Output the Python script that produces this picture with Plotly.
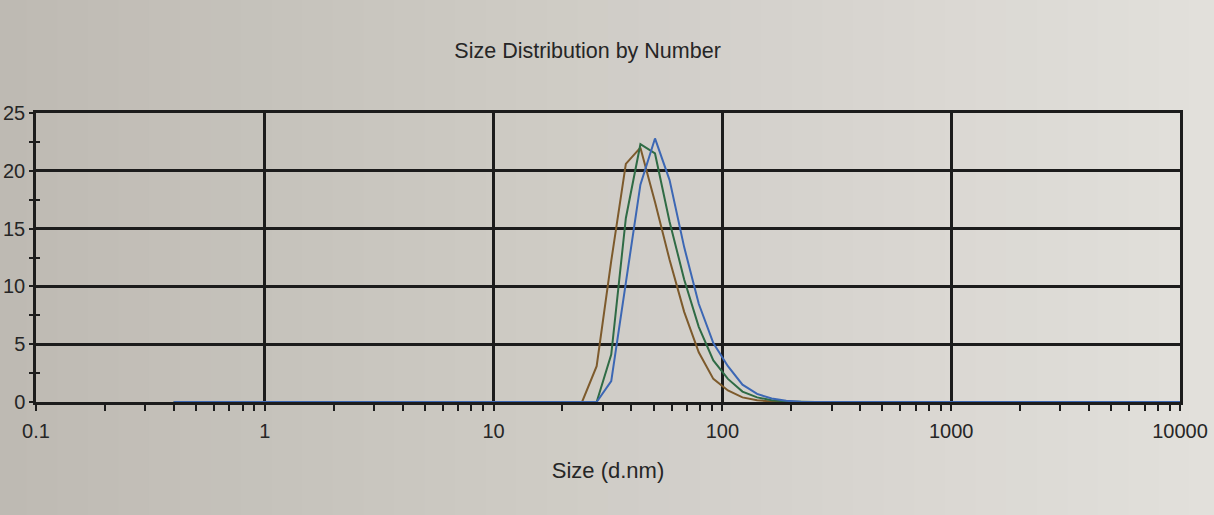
import plotly.graph_objects as go

# Size classes (d.nm) of the instrument's number distribution
sizes = [0.4, 0.4632, 0.5365, 0.6213, 0.7195, 0.8332, 0.9649, 1.117, 1.294, 1.499,
         1.736, 2.010, 2.328, 2.696, 3.122, 3.615, 4.187, 4.849, 5.615, 6.503,
         7.531, 8.721, 10.10, 11.70, 13.54, 15.69, 18.17, 21.04, 24.36, 28.21,
         32.67, 37.84, 43.82, 50.75, 58.77, 68.06, 78.82, 91.28, 105.7, 122.4,
         141.8, 164.2, 190.1, 220.2, 255.0, 295.3, 342.0, 396.1, 458.7, 531.2,
         615.1, 712.4, 825.0, 955.4, 1106, 1281, 1484, 1718, 1990, 2305,
         2669, 3091, 3580, 4145, 4801, 5560, 6439, 7456, 8635, 10000]

# Number (%) per size class for the three measurements
run_brown = [0, 0, 0, 0, 0, 0, 0, 0, 0, 0,
             0, 0, 0, 0, 0, 0, 0, 0, 0, 0,
             0, 0, 0, 0, 0, 0, 0, 0, 0, 3.1,
             12.2, 20.6, 22.0, 17.3, 12.3, 7.8, 4.3, 2.0, 1.0, 0.4,
             0.15, 0.05, 0, 0, 0, 0, 0, 0, 0, 0,
             0, 0, 0, 0, 0, 0, 0, 0, 0, 0,
             0, 0, 0, 0, 0, 0, 0, 0, 0, 0]
run_green = [0, 0, 0, 0, 0, 0, 0, 0, 0, 0,
             0, 0, 0, 0, 0, 0, 0, 0, 0, 0,
             0, 0, 0, 0, 0, 0, 0, 0, 0, 0,
             4.1, 15.9, 22.3, 21.5, 15.6, 10.6, 6.5, 3.6, 2.0, 0.9,
             0.4, 0.15, 0.05, 0, 0, 0, 0, 0, 0, 0,
             0, 0, 0, 0, 0, 0, 0, 0, 0, 0,
             0, 0, 0, 0, 0, 0, 0, 0, 0, 0]
run_blue = [0, 0, 0, 0, 0, 0, 0, 0, 0, 0,
            0, 0, 0, 0, 0, 0, 0, 0, 0, 0,
            0, 0, 0, 0, 0, 0, 0, 0, 0, 0,
            1.8, 10.5, 18.8, 22.8, 19.2, 13.4, 8.5, 5.1, 3.1, 1.5,
            0.7, 0.3, 0.1, 0.03, 0, 0, 0, 0, 0, 0,
            0, 0, 0, 0, 0, 0, 0, 0, 0, 0,
            0, 0, 0, 0, 0, 0, 0, 0, 0, 0]

x_tick_vals = [0.1, 1, 10, 100, 1000, 10000]
x_tick_text = ["0.1", "1", "10", "100", "1000", "10000"]
y_tick_vals = [0, 5, 10, 15, 20, 25]

INK = "#1c1c1c"
TEXT = "#262626"
FONT = "Liberation Sans, Arial, sans-serif"

fig = go.Figure()
series = [(run_brown, "#7d5a2c"), (run_green, "#2f6b45"), (run_blue, "#3c67b4")]
for vals, col in series:
    fig.add_trace(go.Scatter(x=sizes, y=vals, mode="lines",
                             line=dict(color=col, width=2), showlegend=False,
                             hoverinfo="skip"))
# empty trace so the overlay axis (inner y ticks) is rendered
fig.add_trace(go.Scatter(x=[], y=[], yaxis="y2", showlegend=False))

# paper tone: soft left-to-right shading of the printed sheet
left_rgb = (190, 186, 179)
right_rgb = (226, 224, 219)
n_bands = 40
x0p, x1p = -0.035, 1.035
shapes = []
for i in range(n_bands):
    t = i / (n_bands - 1)
    c = tuple(round(l + (r - l) * t) for l, r in zip(left_rgb, right_rgb))
    a = x0p + (x1p - x0p) * i / n_bands
    b = x0p + (x1p - x0p) * (i + 1) / n_bands + 0.002
    shapes.append(dict(type="rect", xref="paper", yref="paper",
                       x0=a, x1=b, y0=-0.5, y1=1.5, layer="below",
                       line=dict(width=0), fillcolor="rgb(%d,%d,%d)" % c))

minor_x = [m * 10 ** e for e in range(-1, 4) for m in range(2, 10)]

fig.update_layout(
    width=1214, height=515,
    margin=dict(l=36, r=34, t=113, b=113),
    paper_bgcolor="rgb(%d,%d,%d)" % left_rgb,
    plot_bgcolor="rgba(0,0,0,0)",
    shapes=shapes,
    font=dict(family=FONT, color=TEXT, size=20),
    title=dict(text="Size Distribution by Number", xref="container", yref="container",
               x=0.484, xanchor="center", y=0.902, yanchor="middle",
               font=dict(size=21.5, color=TEXT, family=FONT)),
    xaxis=dict(type="log", range=[-1, 4], tickmode="array",
               tickvals=x_tick_vals, ticktext=x_tick_text, automargin=False,
               showgrid=True, gridcolor=INK, gridwidth=2.5,
               showline=True, linecolor=INK, linewidth=2.5, mirror=True,
               ticks="outside", ticklen=6, tickwidth=2, tickcolor=INK,
               ticklabelstandoff=3,
               minor=dict(tickmode="array", tickvals=minor_x, ticks="outside",
                          ticklen=6, tickwidth=2, tickcolor=INK, showgrid=False),
               zeroline=False,
               title=dict(text="Size (d.nm)", standoff=22,
                          font=dict(size=22, color=TEXT))),
    yaxis=dict(range=[0, 25], tickmode="array", tickvals=y_tick_vals,
               automargin=False,
               showgrid=True, gridcolor=INK, gridwidth=2.5,
               showline=True, linecolor=INK, linewidth=2.5, mirror=True,
               ticks="outside", ticklen=4, tickwidth=2, tickcolor=INK,
               ticklabelstandoff=0,
               minor=dict(dtick=2.5, tick0=0, ticks="outside", ticklen=4,
                          tickwidth=2, tickcolor=INK, showgrid=False),
               zeroline=False),
    yaxis2=dict(range=[0, 25], overlaying="y", side="left", anchor="x",
                automargin=False,
                showgrid=False, showticklabels=False, ticks="", zeroline=False,
                showline=False,
                minor=dict(dtick=2.5, tick0=0, ticks="inside", ticklen=4,
                           tickwidth=2, tickcolor=INK, showgrid=False)),
)

fig.write_html("out.html")
